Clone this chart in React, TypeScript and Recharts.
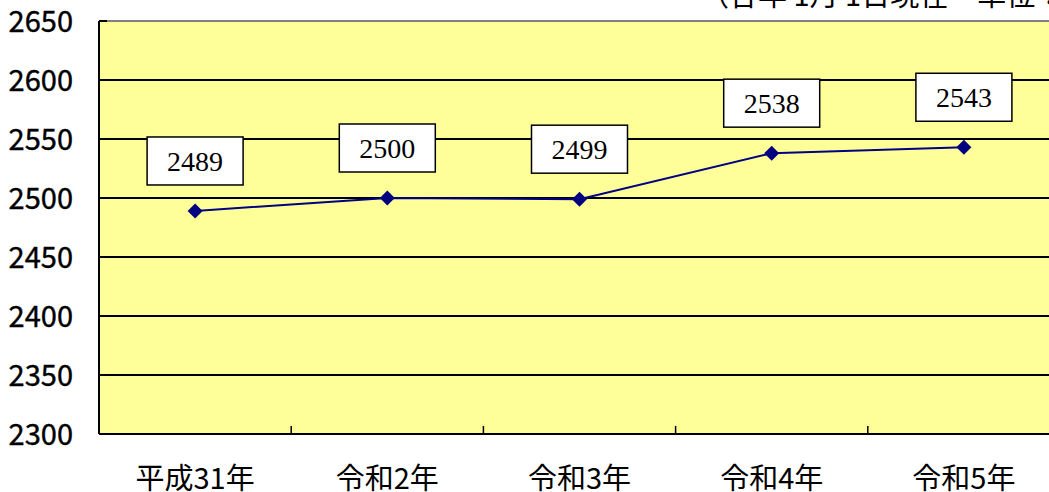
import { LineChart, Line, XAxis, YAxis, CartesianGrid, ReferenceLine, LabelList } from 'recharts'

const years = ['平成31年', '令和2年', '令和3年', '令和4年', '令和5年']
const population = [2489, 2500, 2499, 2538, 2543]
const yTicks = [2300, 2350, 2400, 2450, 2500, 2550, 2600, 2650]
const note = '（各年 1月 1日現在　単位：人）'

const data = years.map((year, i) => ({ year, value: population[i] }))

const W = 1062
const H = 492
const AXIS_X = 99
const sans = '"Noto Sans CJK JP", "Noto Sans", sans-serif'

function Diamond(props: any) {
  const { cx, cy } = props
  if (cx == null || cy == null) return null
  const r = 7.5
  return <polygon points={`${cx},${cy - r} ${cx + r},${cy} ${cx},${cy + r} ${cx - r},${cy}`} fill="#000080" />
}

function ValueBox(props: any) {
  const { x, y, value } = props
  const w = 96
  const h = 48
  const cy = y - 50
  return (
    <g>
      <rect x={x - w / 2} y={cy - h / 2} width={w} height={h} fill="#fff" stroke="#000" strokeWidth={1.5} />
      <text x={x} y={cy + 10} textAnchor="middle" fontSize={28} fontFamily='"Liberation Serif", serif' fill="#000">
        {value}
      </text>
    </g>
  )
}

function XTick(props: any) {
  const { x, y, payload, index } = props
  const edge = x + (payload.offset ?? 0)
  return (
    <g>
      {index < years.length - 1 && <line x1={edge} x2={edge} y1={y} y2={y - 8} stroke="#000" strokeWidth={1.5} />}
      <text x={x} y={y + 55} textAnchor="middle" fontSize={29} fontFamily={sans} fill="#000">
        {payload.value}
      </text>
    </g>
  )
}

function YTick(props: any) {
  const { x, y, payload } = props
  return (
    <g>
      <line x1={AXIS_X} x2={AXIS_X + 8} y1={y} y2={y} stroke="#000" strokeWidth={2} />
      <text x={x} y={y + 11} textAnchor="end" fontSize={29} fontFamily={sans} fill="#000" stroke="#000" strokeWidth={0.4}>
        {payload.value}
      </text>
    </g>
  )
}

export default function App() {
  return (
    <div style={{ position: 'absolute', left: 0, top: 0, width: 1049, height: H, overflow: 'hidden', background: '#fff' }}>
      <div
        style={{
          position: 'absolute',
          left: 700,
          top: -21,
          fontSize: 29,
          lineHeight: '29px',
          fontFamily: sans,
          whiteSpace: 'nowrap',
          color: '#000',
        }}
      >
        {note}
      </div>
      <LineChart width={W} height={H} data={data} margin={{ top: 21, right: 2, bottom: 0, left: 0 }}>
        <CartesianGrid vertical={false} fill="#FFFF99" fillOpacity={1} stroke="#000" strokeWidth={2} />
        <ReferenceLine y={2650} stroke="#808080" strokeWidth={2} />
        <XAxis
          dataKey="year"
          scale="band"
          height={58}
          tickSize={0}
          tickMargin={0}
          tick={<XTick />}
          axisLine={{ stroke: '#000', strokeWidth: 2 }}
          interval={0}
        />
        <YAxis
          domain={[2300, 2650]}
          ticks={yTicks}
          width={AXIS_X}
          tickSize={0}
          tickMargin={26}
          tick={<YTick />}
          axisLine={{ stroke: '#000', strokeWidth: 2 }}
          interval={0}
        />
        <Line
          dataKey="value"
          stroke="#000080"
          strokeWidth={2}
          dot={<Diamond />}
          activeDot={false}
          isAnimationActive={false}
        >
          <LabelList dataKey="value" content={<ValueBox />} />
        </Line>
      </LineChart>
    </div>
  )
}
